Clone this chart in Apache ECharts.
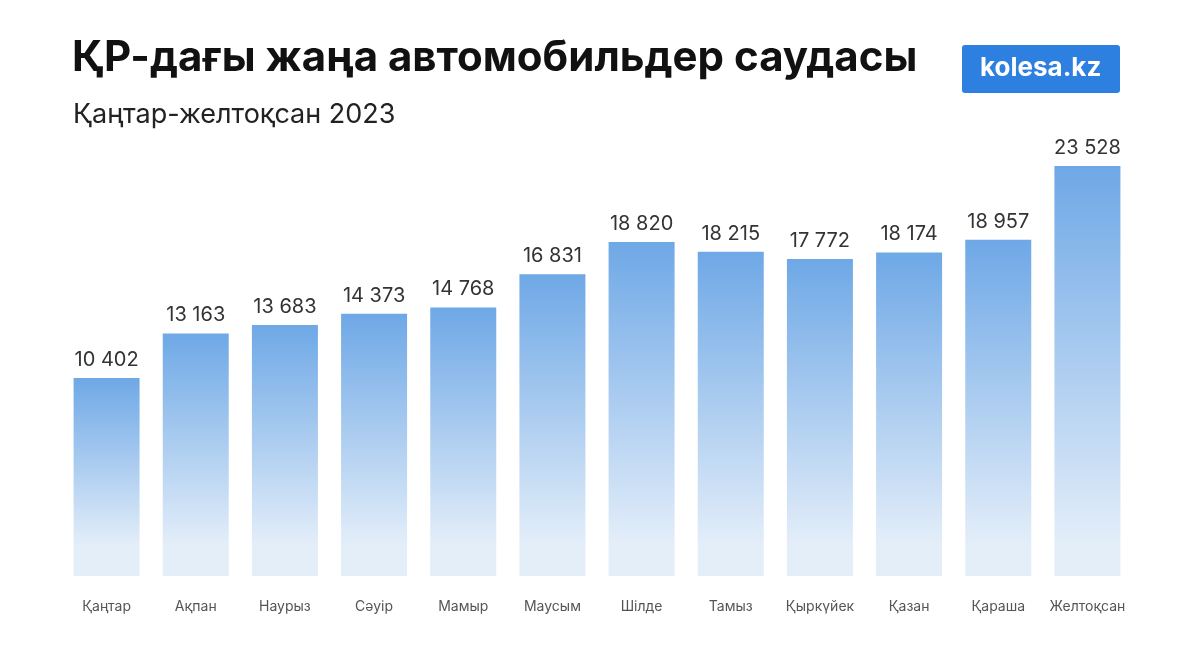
<!DOCTYPE html>
<html><head><meta charset="utf-8">
<script src="https://cdn.jsdelivr.net/npm/echarts@6/dist/echarts.min.js"></script>
<style>html,body{margin:0;background:#fff}#c{width:1193px;height:671px}</style>
</head><body><div id="c"></div>
<script>
// months and sales, Jan-Dec 2023
const months = ['Қаңтар', 'Ақпан', 'Наурыз', 'Сәуір', 'Мамыр', 'Маусым', 'Шілде', 'Тамыз', 'Қыркүйек', 'Қазан', 'Қараша', 'Желтоқсан'];
const sales = [10402, 13163, 13683, 14373, 14768, 16831, 18820, 18215, 17772, 18174, 18957, 23528];
// bars in the picture do not start at zero, an invisible base lifts them
const baseOffset = 1860;

const chart = echarts.init(document.getElementById('c'));
const fmt = v => String(v).replace(/\B(?=(\d{3})+(?!\d))/g, ' ');
chart.setOption({
    animation: false,
    textStyle: { fontFamily: 'Inter, Roboto, sans-serif' },
    graphic: [
        { type: 'text', left: 72, top: 37, style: { text: 'ҚР-дағы жаңа автомобильдер саудасы', font: 'bold 42px Inter, Roboto, sans-serif', fill: '#111' } },
        { type: 'text', left: 73, top: 101, style: { text: 'Қаңтар-желтоқсан 2023', font: '27px Inter, Roboto, sans-serif', fill: '#222' } },
        { type: 'rect', left: 962, top: 45, shape: { width: 158, height: 48, r: 3 }, style: { fill: '#2d7fe0' } },
        { type: 'text', left: 980, top: 55, style: { text: 'kolesa.kz', font: 'bold 26px Inter, Roboto, sans-serif', fill: '#fff' } }
    ],
    grid: { left: 62, right: 61, top: 166, bottom: 95 },
    xAxis: {
        type: 'category',
        data: months,
        axisLine: { show: false },
        axisTick: { show: false },
        axisLabel: { color: '#555', fontSize: 14, margin: 24, interval: 0 }
    },
    yAxis: { type: 'value', min: 0, max: 23528 + baseOffset, show: false, splitLine: { show: false } },
    series: [{
        type: 'bar',
        stack: 'total',
        data: sales.map(() => baseOffset),
        barWidth: 66,
        itemStyle: { color: '#e4eef9' },
        silent: true
    }, {
        type: 'bar',
        stack: 'total',
        data: sales,
        barWidth: 66,
        itemStyle: {
            color: new echarts.graphic.LinearGradient(0, 0, 0, 1, [
                { offset: 0, color: '#6ea8e6' },
                { offset: 1, color: '#e4eef9' }
            ])
        },
        label: { show: true, position: 'top', distance: 8, color: '#333', fontSize: 20, formatter: p => fmt(p.value) }
    }]
});
</script></body></html>
